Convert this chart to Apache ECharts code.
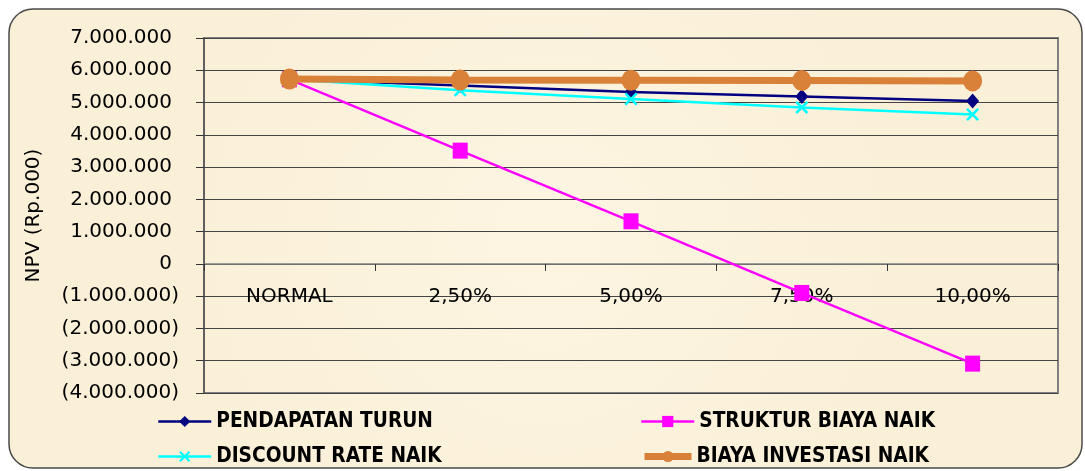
<!DOCTYPE html>
<html>
<head>
<meta charset="utf-8">
<script src="https://cdn.jsdelivr.net/npm/echarts@6/dist/echarts.min.js"></script>
<style>
html,body{margin:0;padding:0;background:#ffffff;}
#c{width:1085px;height:471px;}
</style>
</head>
<body>
<div id="c"></div>
<script>
const categories = ['NORMAL', '2,50%', '5,00%', '7,50%', '10,00%'];
const pendapatanTurun = [5720000, 5530000, 5330000, 5190000, 5050000];
const strukturBiayaNaik = [5720000, 3510000, 1320000, -900000, -3090000];
const discountRateNaik = [5720000, 5380000, 5110000, 4850000, 4630000];
const biayaInvestasiNaik = [5730000, 5700000, 5690000, 5680000, 5670000];
const yMin = -4000000, yMax = 7000000, yStep = 1000000;

const FONT = 'DejaVu Sans';
const GRID = {left: 204, right: 27, top: 38, bottom: 78};
const H = 471;
const chart = echarts.init(document.getElementById('c'));

function fmt(v) {
  const s = Math.abs(v).toString().replace(/\B(?=(\d{3})+(?!\d))/g, '.');
  return v < 0 ? '{n|(' + s + ')}' : '{p|' + s + '}';
}
const xMark = 'path://M0,1.4 L1.4,0 L5,3.6 L8.6,0 L10,1.4 L6.4,5 L10,8.6 L8.6,10 L5,6.4 L1.4,10 L0,8.6 L3.6,5 Z';

// x axis sits on the zero line: distance of zero above the grid bottom
const plotH = H - GRID.top - GRID.bottom;
const zeroOffset = -plotH * (0 - yMin) / (yMax - yMin);

const legendText = {fontFamily: 'DejaVu Sans Condensed', fontWeight: 'bold', fontSize: 20.7, color: '#000'};
function leg(name, left, top, lw, iw) {
  return {data: [name], left: left, top: top, padding: 0, itemWidth: iw, itemHeight: 14,
    lineStyle: {width: lw}, textStyle: legendText};
}

chart.setOption({
  animation: false,
  backgroundColor: '#ffffff',
  graphic: [{
    type: 'rect', z: -10, silent: true,
    shape: {x: 9, y: 9, width: 1073, height: 459, r: 24},
    style: {
      fill: {type: 'radial', x: 0.5, y: 0.5, r: 0.8,
        colorStops: [{offset: 0, color: '#FDF5E2'}, {offset: 1, color: '#FAF0D8'}]},
      stroke: '#4a4a4a', lineWidth: 1.5
    }
  }],
  grid: {left: GRID.left, right: GRID.right, top: GRID.top, bottom: GRID.bottom, show: true,
    borderColor: '#808080', borderWidth: 2, backgroundColor: 'transparent'},
  legend: [
    leg('PENDAPATAN TURUN', 157, 411, 2.5, 53),
    leg('DISCOUNT RATE NAIK', 157, 446, 2.5, 53),
    leg('STRUKTUR BIAYA NAIK', 640, 411, 2.5, 53),
    leg('BIAYA INVESTASI NAIK', 641, 446, 7, 47)
  ],
  xAxis: {
    type: 'category', data: categories, boundaryGap: true,
    position: 'bottom', offset: zeroOffset,
    axisLine: {onZero: false, lineStyle: {color: '#808080', width: 1.5}},
    axisTick: {show: true, length: 7, lineStyle: {color: '#333', width: 1}},
    axisLabel: {margin: 23, fontFamily: FONT, fontSize: 20, color: '#000'},
    splitLine: {show: false}
  },
  yAxis: {
    type: 'value', min: yMin, max: yMax, interval: yStep,
    name: 'NPV (Rp.000)', nameLocation: 'middle', nameGap: 160, nameRotate: 90,
    nameTextStyle: {fontFamily: FONT, fontSize: 20, color: '#000'},
    axisLine: {show: true, lineStyle: {color: '#555', width: 1.5}},
    axisTick: {show: true, length: 8, lineStyle: {color: '#333'}},
    axisLabel: {margin: 25, formatter: fmt,
      rich: {
        p: {fontFamily: FONT, fontSize: 20, color: '#000', padding: [0, 7, 0, 0]},
        n: {fontFamily: FONT, fontSize: 20, color: '#000'}
      }},
    splitLine: {show: true, lineStyle: {color: '#444', width: 1.2}}
  },
  series: [{
    name: 'PENDAPATAN TURUN', type: 'line', data: pendapatanTurun,
    symbol: 'diamond', symbolSize: [13, 15], color: '#000080',
    lineStyle: {width: 2.5, color: '#000080'}, itemStyle: {color: '#000080'}
  }, {
    name: 'STRUKTUR BIAYA NAIK', type: 'line', data: strukturBiayaNaik,
    symbol: 'rect', symbolSize: [15, 16], color: '#FF00FF',
    lineStyle: {width: 2.5, color: '#FF00FF'}, itemStyle: {color: '#FF00FF'}
  }, {
    name: 'DISCOUNT RATE NAIK', type: 'line', data: discountRateNaik,
    symbol: xMark, symbolSize: [13, 13], color: '#00FFFF',
    lineStyle: {width: 2.5, color: '#00FFFF'}, itemStyle: {color: '#00FFFF'}
  }, {
    name: 'BIAYA INVESTASI NAIK', type: 'line', data: biayaInvestasiNaik,
    symbol: 'circle', symbolSize: [19, 21], color: '#DA8139',
    lineStyle: {width: 7, color: '#DA8139'}, itemStyle: {color: '#DA8139'}
  }]
});
</script>
</body>
</html>
